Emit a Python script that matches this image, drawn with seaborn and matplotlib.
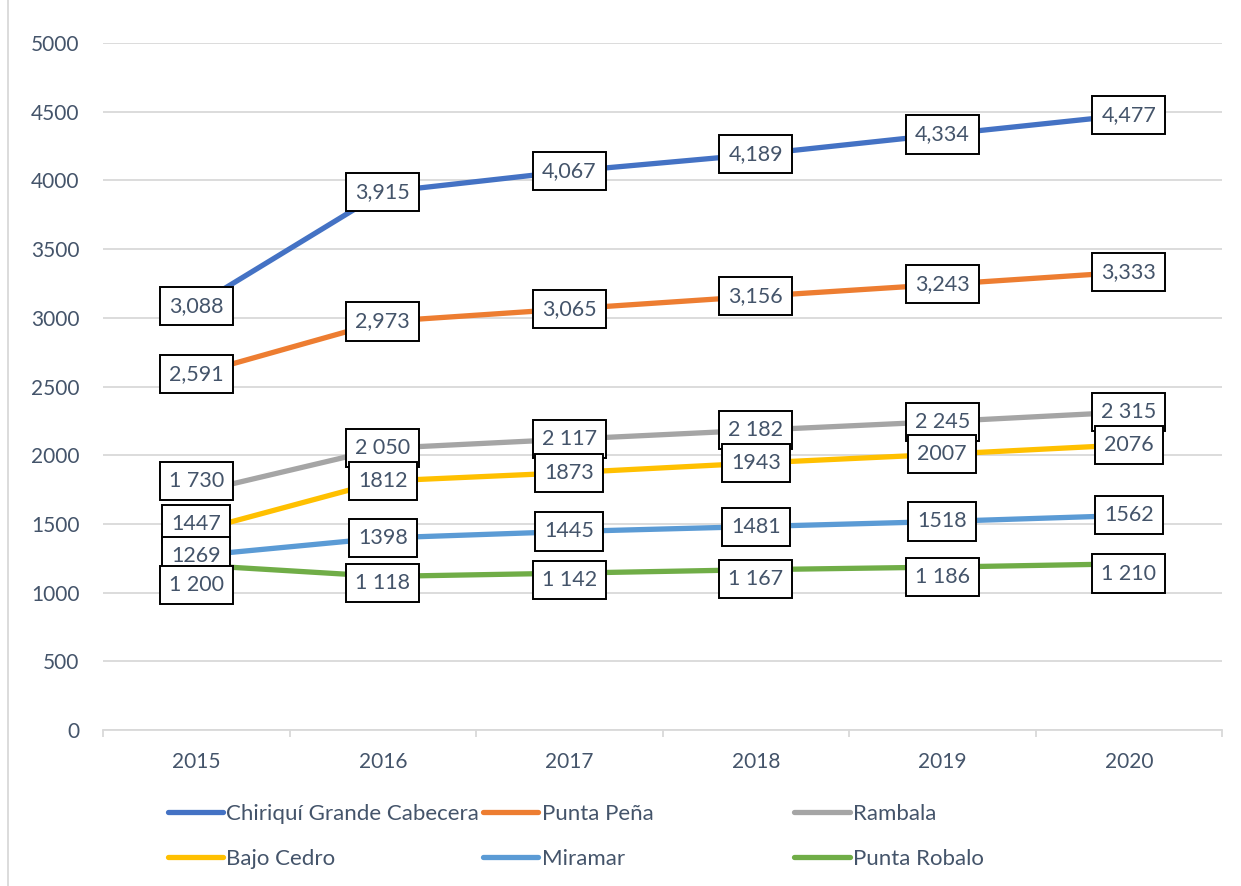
import pandas as pd
import numpy as np
import seaborn as sns
import matplotlib.pyplot as plt
from matplotlib.lines import Line2D

# data
years = [2015, 2016, 2017, 2018, 2019, 2020]
chiriqui = [3088, 3915, 4067, 4189, 4334, 4477]
punta_pena = [2591, 2973, 3065, 3156, 3243, 3333]
rambala = [1730, 2050, 2117, 2182, 2245, 2315]
bajo_cedro = [1447, 1812, 1873, 1943, 2007, 2076]
miramar = [1269, 1398, 1445, 1481, 1518, 1562]
punta_robalo = [1200, 1118, 1142, 1167, 1186, 1210]

names = ["Chiriquí Grande Cabecera", "Punta Peña", "Rambala",
         "Bajo Cedro", "Miramar", "Punta Robalo"]
series = [chiriqui, punta_pena, rambala, bajo_cedro, miramar, punta_robalo]
colors = ["#4472C4", "#ED7D31", "#A5A5A5", "#FFC000", "#5B9BD5", "#70AD47"]
# number format used by each series' data labels
label_fmt = ["comma", "comma", "space", "plain", "plain", "space"]
# vertical nudge of labels (points), as they appear in the original
label_dy = [
    [0, 0, 0, 0, 0, 0],
    [0, 0, 0, 0, 0, 0],
    [8, 0, 0, 0, 0, 0],
    [5, 0, 0, 0, 0, 0],
    [0, 0, 0, 0, 0, 0],
    [-14, -5, -5, -7, -7, -7],
]

df = pd.concat([
    pd.DataFrame({"pos": np.arange(len(years)), "value": vals, "series": name})
    for name, vals in zip(names, series)
])

sns.set_theme(style="white")
plt.rcParams["font.family"] = ["Lato", "DejaVu Sans"]
txt = "#44546A"
grid = "#D9D9D9"

fig = plt.figure(figsize=(12.41, 8.86), dpi=100)
ax = fig.add_axes([0.083, 0.176, 0.9017, 0.7755])

sns.lineplot(data=df, x="pos", y="value", hue="series", hue_order=names,
             palette=colors, linewidth=3.8, ax=ax, legend=False,
             solid_capstyle="round")

def fmt(v, kind):
    if kind == "comma":
        return f"{v:,}"
    if kind == "space":
        return f"{v:,}".replace(",", " ")
    return str(v)

for vals, kind, dys in zip(series, label_fmt, label_dy):
    for i, v in enumerate(vals):
        ax.annotate(fmt(v, kind), (i, v), xytext=(0, dys[i]), textcoords="offset points",
                    ha="center", va="center", fontsize=15.5, color=txt, zorder=5,
                    bbox=dict(boxstyle="square,pad=0.42", fc="white", ec="black", lw=1.4))

ax.set_xlim(-0.5, 5.5)
ax.set_ylim(0, 5000)
ax.set_yticks(range(0, 5001, 500))
ax.set_xticks(range(len(years)))
ax.set_xticklabels(years)
ax.set_xticks(np.arange(-0.5, 5.6, 1), minor=True)
ax.set_xlabel("")
ax.set_ylabel("")
ax.grid(axis="y", color=grid, lw=1.3)
ax.set_axisbelow(True)
for s in ["top", "right", "left"]:
    ax.spines[s].set_visible(False)
ax.spines["bottom"].set_color(grid)
ax.spines["bottom"].set_linewidth(1.3)
ax.tick_params(axis="y", length=0, pad=17, labelsize=15, labelcolor=txt)
ax.tick_params(axis="x", which="major", length=0, pad=16, labelsize=15, labelcolor=txt)
ax.tick_params(axis="x", which="minor", length=5, width=1.3, color=grid, bottom=True)

# legend: three columns placed as in the original
cols = [(0, 3), (1, 4), (2, 5)]
xs = [0.135, 0.389, 0.640]
for (a, b), x0 in zip(cols, xs):
    handles = [Line2D([], [], color=colors[k], lw=3.8, solid_capstyle="round") for k in (a, b)]
    leg = fig.legend(handles, [names[a], names[b]], loc="upper left",
                     bbox_to_anchor=(x0, 0.093), frameon=False, fontsize=16,
                     handlelength=2.5, handletextpad=0.15, labelspacing=1.15,
                     borderaxespad=0, borderpad=0)
    for t in leg.get_texts():
        t.set_color(txt)

fig.add_artist(Line2D([0.0065, 0.0065], [0, 1], color=grid, lw=1.3))

fig.savefig("out.png", dpi=100)
